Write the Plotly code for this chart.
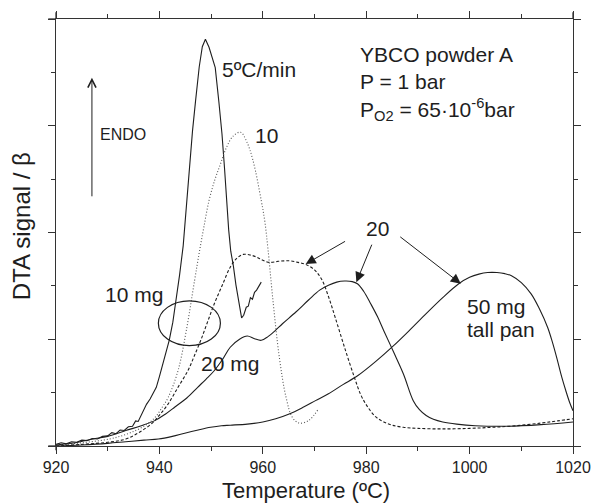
import plotly.graph_objects as go

# ---- data (temperature in ºC, DTA signal / beta in arbitrary units 0..8) ----
a_x = [920.0, 921.0, 922.0, 923.0, 924.0, 925.0, 926.0, 927.0, 928.0, 929.0, 930.0, 930.8, 931.6, 932.4,
       933.2, 934.0, 934.8, 935.4, 935.9, 936.6, 937.5, 938.2, 938.8, 939.4, 940.0, 940.6, 941.2, 941.9,
       942.6, 943.2, 943.9, 944.6, 945.2, 945.7, 946.4, 947.0, 947.7, 948.3, 948.9, 949.6, 950.2, 950.8,
       951.5, 952.1, 952.6, 953.0, 953.4, 953.8, 954.3, 954.8, 955.3, 955.9, 956.3, 956.8, 957.2, 957.6,
       958.0, 958.4, 958.8, 959.2, 959.7]
a_y = [0.03, 0.06, 0.04, 0.08, 0.07, 0.11, 0.10, 0.14, 0.13, 0.18, 0.19, 0.25, 0.23, 0.30,
       0.29, 0.36, 0.37, 0.47, 0.46, 0.60, 0.78, 0.88, 1.00, 1.10, 1.30, 1.52, 1.72, 1.98,
       2.32, 2.69, 3.20, 3.75, 4.45, 5.20, 5.90, 6.47, 7.10, 7.48, 7.62, 7.47, 7.30, 7.09,
       6.45, 5.85, 5.20, 4.60, 4.05, 3.65, 3.38, 3.02, 2.70, 2.40, 2.45, 2.60, 2.62, 2.78,
       2.75, 2.88, 2.92, 3.00, 3.07]

b_x = [920, 925, 930.3, 933, 935.4, 937.5, 939.2, 940.5, 941.7, 943.6, 945.2, 946.8, 947.7, 948.6,
       949.6, 950.7, 951.8, 953.0, 954.2, 955.7, 956.9, 958.1, 959.7, 960.4, 961.0, 961.9, 963.2,
       964.5, 965.7, 967.0, 968.9, 970.8]
b_y = [0.02, 0.06, 0.13, 0.20, 0.29, 0.40, 0.54, 0.72, 0.91, 1.41, 2.16, 3.10, 3.62, 4.10,
       4.60, 4.98, 5.28, 5.60, 5.80, 5.88, 5.70, 5.35, 4.60, 4.20, 3.69, 2.79, 1.66,
       0.91, 0.54, 0.43, 0.48, 0.70]

c_x = [920, 925, 930, 933.5, 936, 938.5, 940.2, 941.7, 943.6, 945.5, 946.8, 948.0, 949.3, 950.6,
       952.2, 953.7, 955.0, 956.2, 957.5, 958.8, 960.0, 961.3, 963.0, 965.1, 966.8, 968.3, 970.0,
       971.4, 972.7, 974.0, 975.8, 977.7, 979.0, 980.3, 981.8, 983.4, 985.0, 987.2, 990, 994.8,
       1000, 1004.3, 1009, 1013.8, 1017, 1020]
c_y = [0.0, 0.03, 0.07, 0.13, 0.25, 0.42, 0.60, 0.79, 1.10, 1.41, 1.70, 1.98, 2.32, 2.66,
       3.02, 3.35, 3.52, 3.59, 3.58, 3.54, 3.48, 3.44, 3.46, 3.47, 3.44, 3.40, 3.30,
       3.12, 2.80, 2.41, 1.85, 1.29, 0.95, 0.73, 0.55, 0.45, 0.39, 0.35, 0.33, 0.32,
       0.33, 0.35, 0.38, 0.43, 0.47, 0.51]

d_x = [920, 923, 927.1, 930, 933.5, 936.5, 939.2, 941.2, 943.0, 945.3, 947.4, 949.0, 950.6, 952.2,
       953.7, 955.5, 957.0, 958.4, 959.7, 961.0, 962.5, 963.8, 966.4, 968.9, 971, 972.7, 974.3,
       975.8, 977.3, 978.3, 979.5, 980.9, 982.2, 983.4, 985.3, 987.2, 989.1, 990.3, 991.6, 993,
       994.8, 997.5, 1001.1, 1007.5, 1013.8, 1020]
d_y = [0.02, 0.05, 0.13, 0.18, 0.29, 0.38, 0.48, 0.60, 0.73, 0.90, 1.10, 1.25, 1.41, 1.62,
       1.85, 2.00, 2.06, 2.01, 1.98, 2.05, 2.17, 2.29, 2.51, 2.74, 2.92, 3.01, 3.07,
       3.09, 3.08, 3.04, 2.90, 2.66, 2.42, 2.16, 1.76, 1.35, 0.85, 0.68, 0.57, 0.50,
       0.45, 0.41, 0.38, 0.37, 0.40, 0.45]

e_x = [920, 925, 930, 933.5, 937, 939.8, 942.5, 944.9, 947.5, 949.9, 952, 953.7, 957, 960, 962.5,
       965.1, 967.7, 970.2, 972.7, 975.5, 978.4, 981.8, 985.3, 988.5, 991.6, 994.8, 997.9, 1000,
       1001.8, 1003.5, 1005.3, 1006.8, 1008.1, 1010, 1011.9, 1013.5, 1015.1, 1016.0, 1017.0,
       1017.8, 1018.6, 1019.3, 1020]
e_y = [0.0, 0.02, 0.05, 0.08, 0.11, 0.13, 0.18, 0.24, 0.30, 0.35, 0.38, 0.39, 0.41, 0.45, 0.51,
       0.60, 0.72, 0.85, 0.98, 1.15, 1.32, 1.58, 1.88, 2.18, 2.48, 2.78, 3.04, 3.16,
       3.22, 3.25, 3.25, 3.23, 3.19, 3.06, 2.85, 2.57, 2.22, 1.95, 1.60,
       1.30, 1.04, 0.83, 0.66]

x_ticks = [920, 940, 960, 980, 1000, 1020]

FONT = "Liberation Sans, Arial, Helvetica, sans-serif"
INK = "#1e1e1e"
AX = "#333333"

fig = go.Figure()
fig.add_trace(go.Scatter(x=a_x, y=a_y, mode="lines", line=dict(color=INK, width=1.1)))
fig.add_trace(go.Scatter(x=b_x, y=b_y, mode="lines", line_shape="spline",
                         line=dict(color="#555555", width=1.1, dash="1px,2px")))
fig.add_trace(go.Scatter(x=c_x, y=c_y, mode="lines", line_shape="spline",
                         line=dict(color=INK, width=1.1, dash="3px,2px")))
fig.add_trace(go.Scatter(x=d_x, y=d_y, mode="lines", line_shape="spline",
                         line=dict(color=INK, width=1.1)))
fig.add_trace(go.Scatter(x=e_x, y=e_y, mode="lines", line_shape="spline",
                         line=dict(color=INK, width=1.1)))
# invisible helper trace so the mirrored top/right axes are drawn
fig.add_trace(go.Scatter(x=e_x, y=e_y, xaxis="x2", yaxis="y2", mode="lines",
                         line=dict(width=0), opacity=0, hoverinfo="skip"))

common = dict(showgrid=False, zeroline=False, showline=True, linecolor=AX, linewidth=1.3,
              ticks="outside", tickcolor=AX, tickwidth=1.3, ticklen=7)
xminor = dict(dtick=10, tick0=920, ticks="outside", ticklen=4, tickcolor=AX, tickwidth=1.3)
yminor = dict(dtick=1, tick0=0, ticks="outside", ticklen=4, tickcolor=AX, tickwidth=1.3)

fig.update_layout(
    xaxis=dict(range=[920, 1020], tickvals=x_ticks, ticktext=[str(v) for v in x_ticks],
               tickfont=dict(size=16, family=FONT, color=INK), minor=xminor, **common),
    yaxis=dict(range=[0, 8], dtick=2, tick0=0, showticklabels=False, minor=yminor, **common),
    xaxis2=dict(range=[920, 1020], tickvals=x_ticks, showticklabels=False, overlaying="x",
                side="top", anchor="y2", minor=xminor, **common),
    yaxis2=dict(range=[0, 8], dtick=2, tick0=0, showticklabels=False, overlaying="y",
                side="right", anchor="x2", minor=yminor, **common),
)

ann = []
def label(x, y, text, size=21, xanchor="left"):
    ann.append(dict(x=x, y=y, xref="x", yref="y", text=text, showarrow=False, xanchor=xanchor,
                    yanchor="middle", font=dict(size=size, family=FONT, color=INK)))

label(951.8, 7.05, "5ºC/min")
label(958.1, 5.81, "10")
label(928.2, 5.84, "ENDO", size=16)
label(978.4, 7.33, "YBCO powder A")
label(978.4, 6.82, "P = 1 bar")
label(978.4, 6.30, "P<sub>O2</sub> = 65·10<sup>-6</sup>bar")
label(982.2, 4.08, "20", xanchor="center")
label(929.0, 2.83, "10 mg")
label(947.7, 1.55, "20 mg")
label(999.1, 2.62, "50 mg")
label(999.1, 2.19, "tall pan")

# ENDO arrow
ann.append(dict(x=926.95, y=6.9, ax=926.95, ay=4.65, xref="x", yref="y", axref="x", ayref="y",
                text="", showarrow=True, arrowhead=5, arrowsize=1.6, arrowwidth=1, arrowcolor=INK))
# "20" arrows
for hx, hy, tx, ty in [(968.3, 3.41, 976.2, 3.85), (978.1, 3.07, 981.2, 3.80), (998.3, 3.04, 986.3, 3.94)]:
    ann.append(dict(x=hx, y=hy, ax=tx, ay=ty, xref="x", yref="y", axref="x", ayref="y",
                    text="", showarrow=True, arrowhead=2, arrowsize=2.0, arrowwidth=1, arrowcolor=INK))

# axis titles
ann.append(dict(x=-0.0664, y=0.514, xref="paper", yref="paper", text="DTA signal / β", textangle=-90,
                showarrow=False, xanchor="center", yanchor="middle",
                font=dict(size=24, family=FONT, color=INK)))
ann.append(dict(x=0.484, y=-0.105, xref="paper", yref="paper", text="Temperature (ºC)",
                showarrow=False, xanchor="center", yanchor="middle",
                font=dict(size=22, family=FONT, color=INK)))

line_style = dict(color=AX, width=1.3)
shapes = [
    dict(type="circle", xref="x", yref="y", x0=939.8, x1=951.8, y0=1.88, y1=2.72,
         line=dict(color=INK, width=1.2)),
    # frame extensions beyond the corners
    dict(type="line", xref="paper", yref="paper", x0=-0.015, x1=0.0, y0=0, y1=0, line=line_style),
    dict(type="line", xref="paper", yref="paper", x0=-0.015, x1=0.0, y0=1, y1=1, line=line_style),
    dict(type="line", xref="paper", yref="paper", x0=0, x1=0, y0=1.0, y1=1.016, line=line_style),
    dict(type="line", xref="paper", yref="paper", x0=1, x1=1, y0=1.0, y1=1.016, line=line_style),
    dict(type="line", xref="paper", yref="paper", x0=0, x1=0, y0=-0.01, y1=0.0, line=line_style),
]

fig.update_layout(width=603, height=504, margin=dict(l=56, r=20, t=18, b=58),
                  paper_bgcolor="white", plot_bgcolor="white", showlegend=False,
                  annotations=ann, shapes=shapes, font=dict(family=FONT, color=INK))

fig.write_html("out.html")
